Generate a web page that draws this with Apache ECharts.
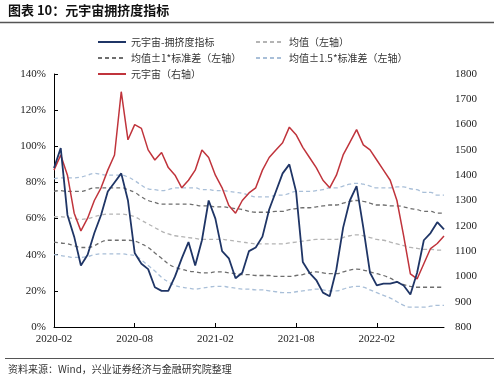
<!DOCTYPE html>
<html><head><meta charset="utf-8">
<script src="https://cdn.jsdelivr.net/npm/echarts@6/dist/echarts.min.js"></script>
<style>html,body{margin:0;padding:0;background:#fff}#c{width:499px;height:384px}</style>
</head><body><div id="c"></div>
<script>
var categories = ["2020-02-01","2020-02-15","2020-03-01","2020-03-15","2020-04-01","2020-04-15","2020-05-01","2020-05-15","2020-06-01","2020-06-15",
"2020-07-01","2020-07-15","2020-08-01","2020-08-15","2020-09-01","2020-09-15","2020-10-01","2020-10-15","2020-11-01","2020-11-15",
"2020-12-01","2020-12-15","2021-01-01","2021-01-15","2021-02-01","2021-02-15","2021-03-01","2021-03-15","2021-04-01","2021-04-15",
"2021-05-01","2021-05-15","2021-06-01","2021-06-15","2021-07-01","2021-07-15","2021-08-01","2021-08-15","2021-09-01","2021-09-15",
"2021-10-01","2021-10-15","2021-11-01","2021-11-15","2021-12-01","2021-12-15","2022-01-01","2022-01-15","2022-02-01","2022-02-15",
"2022-03-01","2022-03-15","2022-04-01","2022-04-15","2022-05-01","2022-05-15","2022-06-01","2022-06-15","2022-07-01"];
var crowding = [88,99,62,50,34,40,52,62,75,80,85,70,41,35,32,22,20,20,28,38,47,34,48,70,60,42,38,27,30,42,44,50,65,75,85,90,75,36,30,26,19,17,32,55,70,78,55,30,23,24,24,25,23,18,30,48,52,58,54];
var metaIndex = [1420,1480,1400,1250,1180,1230,1300,1350,1420,1480,1730,1540,1600,1585,1500,1460,1490,1430,1400,1350,1380,1420,1500,1470,1400,1350,1280,1250,1300,1330,1350,1420,1470,1500,1528,1590,1560,1510,1470,1430,1380,1350,1400,1480,1530,1580,1520,1500,1460,1420,1380,1300,1160,1010,990,1050,1110,1130,1160];
var meanVal = [61,61,60.5,60,59.5,60,61,62,62.5,62.5,62.5,62,61,59,57,55,53,51.5,50.5,50,49.5,49,48.5,48.5,48.5,48.5,48,47.5,47,46.5,46,46,46,46,46,46.5,47,47.5,48,48.5,48.5,48.5,48.5,49.5,50.5,51,50.5,49.5,48.5,48,47,46,45,44,43.5,43,43,42.5,42.5];
var lower1 = [47,46.5,46,45,44,44,45,47,48,48,48,48,47.5,46,44,41,38,35,33,32,31,30.5,30,30,30.5,30.5,30,29.5,29,29,28.5,28.5,28.5,28,28,28,28.5,29,30,30.5,30,29.5,29.5,30.5,31.5,32,31.5,30.5,29.5,28.5,27,25,23.5,22.5,22,22,22,22,22];
var upper1 = [75,75.5,75,75,75,76,77,77,77,77,77,76,74.5,72,70,69,68,68,68,68,68,67.5,67,67,66.5,66.5,66,65.5,65,64,63.5,63.5,63.5,64,64,65,65.5,66,66,66.5,67,67.5,67.5,68.5,69.5,70,69.5,68.5,67.5,67.5,67,67,66.5,65.5,65,64,64,63,63];
var lower15 = [40,39.5,39,38.5,38.5,39,40,40.5,40.5,40.5,40.5,40,39.5,37,34,31,27.5,25,23,22,21.5,21,21.5,22,22.5,22.5,22,21.5,21,21,20.5,20.5,20,19.5,19,19,19.5,20,20.5,21,20.5,20,20,21,22,22.5,22,20.5,19,17.5,16,14,12,11,11,11,11.5,12,12];
var upper15 = [82,82.5,82.5,82.5,83,84,85,84.5,84,84,84,83,81,78.5,76.5,76,75.5,76,77,77,77,77,76,76,75.5,75.5,75,74.5,74,73,72,72,72,73,73,74,75,75,75,75.5,76,77,77,78,79,79.5,79,78,77,77,77,77.5,77.5,76.5,76,74.5,74.5,73,73];
var leftTicks = ['0%','20%','40%','60%','80%','100%','120%','140%'];
var xTickLabels = ['2020-02','2020-08','2021-02','2021-08','2022-02'];

var chart = echarts.init(document.getElementById('c'));
var numFont = 'Liberation Serif, Times New Roman, serif';
var cjkFont = 'Noto Sans CJK SC, sans-serif';
function pct(a){return a.map(function(v){return v/100;});}
function dashed(name, data, color){
  return {name:name, type:'line', data:pct(data), symbol:'none', showSymbol:false, smooth:true, yAxisIndex:0,
    lineStyle:{color:color, width:1.3, type:[4,3]}, itemStyle:{color:color}, z:2};
}
var C_NAVY='#1f3566', C_RED='#c0343c', C_DARK='#6e6e6e', C_LIGHT='#b4b4b4', C_BLUE='#a9bfd8';
var N1='元宇宙-拥挤度指标', N2='均值（左轴）', N3='均值±1*标准差（左轴）', N4='均值±1.5*标准差（左轴）', N5='元宇宙（右轴）';
var legendCommon = {orient:'vertical', itemWidth:28, itemHeight:10, itemGap:6,
  itemStyle:{opacity:0}, textStyle:{fontFamily:cjkFont, fontSize:10, color:'#333'}};
chart.setOption({
  animation:false,
  backgroundColor:'#fff',
  grid:{left:54, right:55, top:74, bottom:57},
  legend:[
    Object.assign({left:92, top:32, data:[N1,N3,N5]}, legendCommon),
    Object.assign({left:250, top:32, data:[N2,N4]}, legendCommon)
  ],
  xAxis:{type:'category', data:categories, boundaryGap:false,
    axisLine:{lineStyle:{color:'#000', width:1}},
    axisTick:{inside:true, length:4, lineStyle:{color:'#000'}, interval:function(i){return i%12===0 && i>0;}},
    axisLabel:{interval:function(i){return i%12===0;}, formatter:function(v){return v.slice(0,7);},
      fontFamily:numFont, fontSize:11, color:'#222', margin:7},
    splitLine:{show:false}},
  yAxis:[
    {type:'value', min:0, max:1.4, interval:0.2,
     axisLine:{show:true, lineStyle:{color:'#000'}},
     axisTick:{show:true, inside:true, length:4, lineStyle:{color:'#000'}},
     axisLabel:{formatter:function(v){return leftTicks[Math.round(v/0.2)];}, fontFamily:numFont, fontSize:11, color:'#222', margin:8},
     splitLine:{show:false}},
    {type:'value', min:800, max:1800, interval:100, position:'right',
     axisLine:{show:false}, axisTick:{show:false},
     axisLabel:{formatter:function(v){return String(v);}, fontFamily:numFont, fontSize:11, color:'#222', margin:11},
     splitLine:{show:false}}
  ],
  series:[
    dashed(N2, meanVal, C_LIGHT),
    dashed(N3, upper1, C_DARK),
    dashed(N3, lower1, C_DARK),
    dashed(N4, upper15, C_BLUE),
    dashed(N4, lower15, C_BLUE),
    {name:N5, type:'line', data:metaIndex, yAxisIndex:1, symbol:'none', showSymbol:false,
     lineStyle:{color:C_RED, width:1.5}, itemStyle:{color:C_RED}, z:3},
    {name:N1, type:'line', data:pct(crowding), yAxisIndex:0, symbol:'none', showSymbol:false,
     lineStyle:{color:C_NAVY, width:1.8}, itemStyle:{color:C_NAVY}, z:4}
  ],
  graphic:[
    {type:'text', left:8, top:4, style:{text:'图表 10：元宇宙拥挤度指标', fontFamily:cjkFont, fontWeight:'bold', fontSize:13, fill:'#111'}},
    {type:'line', shape:{x1:0, y1:22.5, x2:494, y2:22.5}, style:{stroke:'#555', lineWidth:1.5}},
    {type:'line', shape:{x1:5, y1:358.5, x2:494, y2:358.5}, style:{stroke:'#555', lineWidth:1.2}},
    {type:'text', left:8, top:364, style:{text:'资料来源：Wind，兴业证券经济与金融研究院整理', fontFamily:cjkFont, fontSize:10, fill:'#333'}}
  ]
});
</script></body></html>
